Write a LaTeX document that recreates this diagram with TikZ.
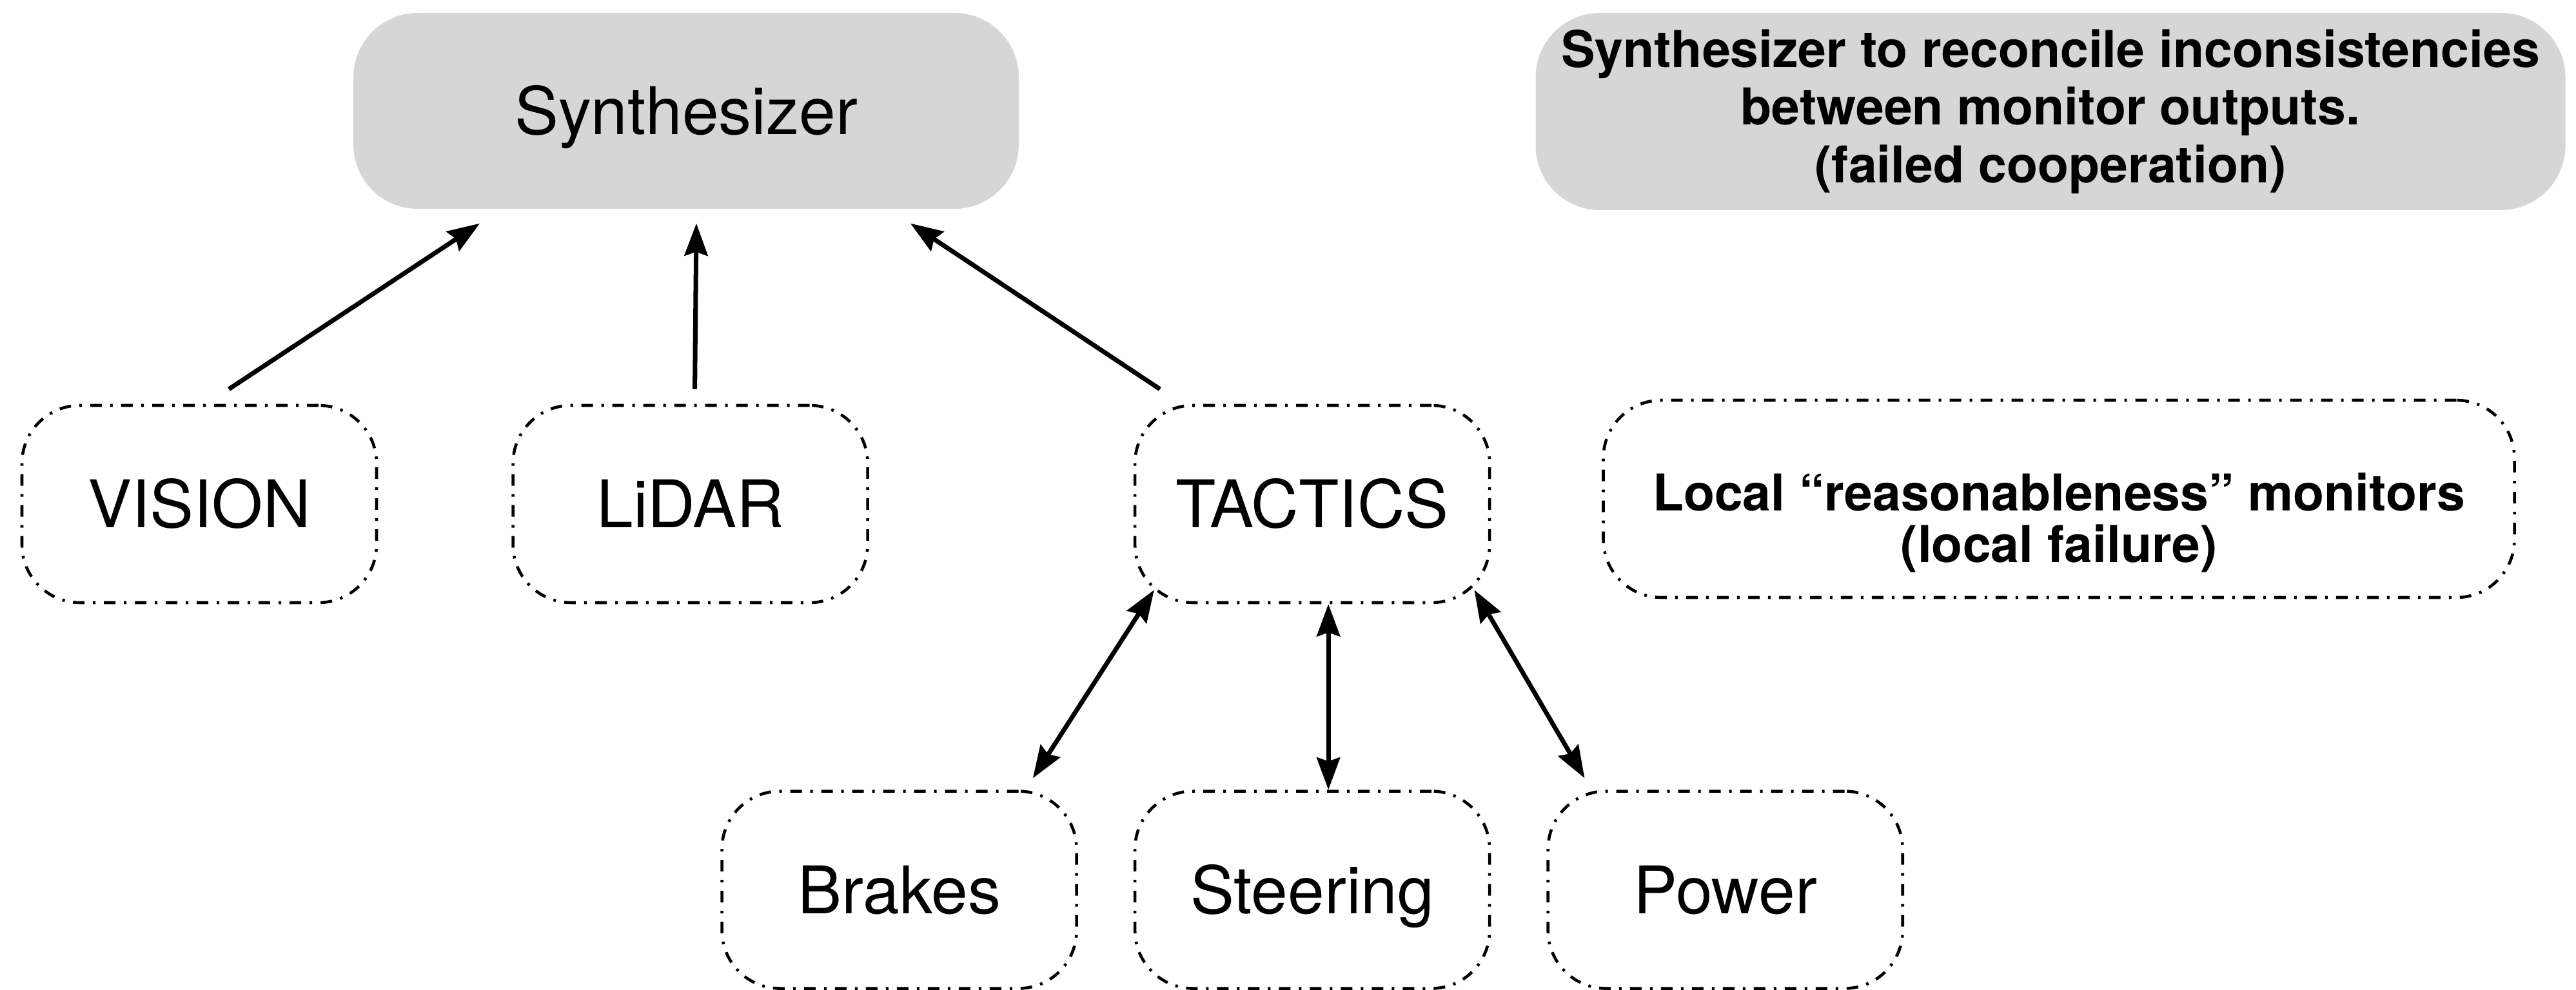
\documentclass[tikz,border=0pt]{standalone}
\usepackage{fontspec}
\setmainfont{TeX Gyre Heros}
\usetikzlibrary{positioning,arrows.meta}
\definecolor{synthgray}{RGB}{214,214,214}

\begin{document}
\begin{tikzpicture}[
  >={Stealth[length=5mm, width=3.6mm, inset=0.6mm]},
  unit/.style={draw, line width=1.3pt, rounded corners=0.9cm,
               dash pattern=on 0.18cm off 0.13cm on 0.04cm off 0.13cm,
               minimum width=5.5cm, minimum height=3.06cm,
               text height=21pt, text depth=0pt, font=\fontsize{29}{35}\selectfont},
  synthbox/.style={fill=synthgray, rounded corners=1cm,
                   minimum width=10.32cm, minimum height=3.04cm,
                   text height=21pt, text depth=0pt, font=\fontsize{29}{35}\selectfont},
  notebox/.style={fill=synthgray, rounded corners=1cm, align=center,
                  minimum width=15.97cm, minimum height=3.06cm,
                  font=\bfseries\fontsize{22.4}{25.5}\selectfont},
  monfont/.style={align=center, font=\bfseries\fontsize{22.4}{26}\selectfont},
  line/.style={->, line width=2pt},
  both/.style={<->, line width=2pt},
]
\useasboundingbox (0,0) rectangle (39.95,15.36);

% top row
\node[synthbox] (synth) at (10.64,13.64) {Synthesizer};
\node[notebox] (note) at (31.80,13.63)
  {Synthesizer to reconcile inconsistencies\\between monitor outputs.\\(failed cooperation)};

% monitored units
\node[unit] (vision) at (3.09,7.54) {VISION};
\node[unit, right=2.07cm of vision] (lidar) {LiDAR};
\node[unit, right=4.1cm of lidar] (tactics) {TACTICS};
\node[unit, below=2.88cm of tactics] (steering) {Steering};
\node[unit, left=0.86cm of steering] (brakes) {Brakes};
\node[unit, right=0.86cm of steering] (power) {Power};

\node[unit, minimum width=14.13cm] (local) at (31.93,7.62) {};
\node[monfont] (localtext) at ([yshift=-0.37cm]local.center)
  {Local “reasonableness” monitors\\[-3pt](local failure)};

\draw[line] ([shift={(0.46,0.23)}]vision.north) -- ([shift={(-3.20,-0.22)}]synth.south);
\draw[line] ([shift={(0.07,0.23)}]lidar.north) -- ([shift={(0.16,-0.22)}]synth.south);
\draw[line] ([shift={(0.41,0.23)}]tactics.north west) -- ([shift={(3.48,-0.22)}]synth.south);

\draw[both] ([shift={(0.32,0.22)}]tactics.south west) -- ([shift={(-0.70,0.18)}]brakes.north east);
\draw[both] ([xshift=0.25cm]tactics.south) -- ([xshift=0.25cm]steering.north);
\draw[both] ([shift={(-0.26,0.22)}]tactics.south east) -- ([shift={(0.59,0.18)}]power.north west);
\end{tikzpicture}
\end{document}
